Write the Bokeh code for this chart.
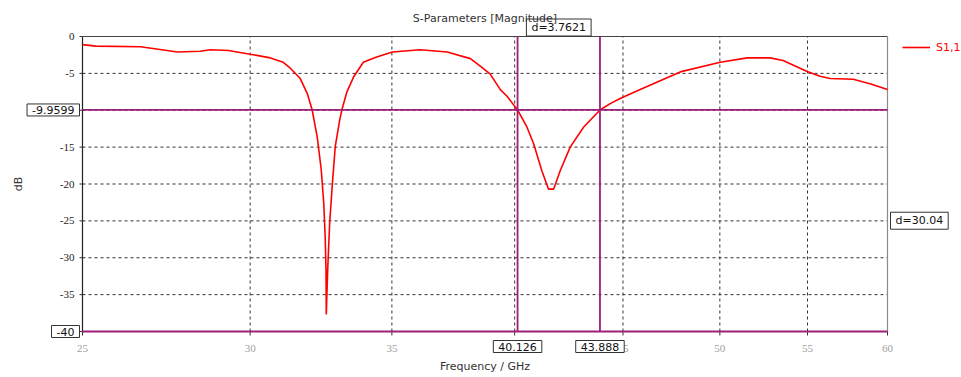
import math
import numpy as np
from bokeh.plotting import figure
from bokeh.models import Range1d, Label, Legend, LegendItem
from bokeh.embed import file_html
from bokeh.resources import INLINE

# S1,1 magnitude trace (frequency in GHz, magnitude in dB)
freq_ghz = [25.00, 25.36, 26.63, 27.72, 28.42, 28.73, 29.30, 30.00, 30.67, 31.10,
            31.34, 31.68, 31.92, 32.09, 32.27, 32.41, 32.50, 32.55, 32.58, 32.59,
            32.64, 32.71, 32.80, 32.91, 33.07, 33.15, 33.33, 33.57, 33.82, 33.93,
            34.40, 35.02, 36.10, 37.17, 38.12, 38.60, 38.95, 39.38, 39.67, 40.126,
            40.54, 40.83, 41.20, 41.50, 41.73, 42.03, 42.49, 43.11, 43.888, 44.38,
            44.86, 45.85, 47.89, 50.02, 51.51, 52.81, 53.56, 54.98, 55.76, 56.37,
            57.80, 58.87, 60.00]
s11_db = [-1.1, -1.3, -1.4, -2.1, -2.0, -1.8, -1.9, -2.4, -2.9, -3.5,
          -4.3, -5.7, -7.7, -9.9, -13.6, -18.0, -22.6, -27.1, -31.6, -37.7,
          -31.6, -25.3, -20.3, -14.9, -11.3, -9.9, -7.5, -5.5, -4.1, -3.5,
          -2.8, -2.1, -1.8, -2.1, -3.0, -4.2, -5.1, -7.2, -8.1, -9.96,
          -12.3, -14.5, -18.2, -20.7, -20.7, -18.2, -15.0, -12.3, -9.96, -9.1,
          -8.4, -7.2, -4.8, -3.5, -2.9, -2.9, -3.25, -4.75, -5.4, -5.7,
          -5.8, -6.4, -7.2]

x_ticks = [25, 30, 35, 40, 45, 50, 55, 60]
x_tick_labels = ["25", "30", "35", "40", "45", "50", "55", "60"]
y_ticks = [0, -5, -10, -15, -20, -25, -30, -35, -40]
y_tick_labels = ["0", "-5", "-10", "-15", "-20", "-25", "-30", "-35", "-40"]

# marker positions
marker_freqs = [40.126, 43.888]
marker_levels = [-9.9599, -40]
marker_freq_labels = ["40.126", "43.888"]
marker_level_labels = ["-9.9599", "-40"]
delta_freq_label = "d=3.7621"
delta_level_label = "d=30.04"

# page and plot-box geometry (pixels)
W, H = 961, 377
BOX_L, BOX_R, BOX_T, BOX_B = 82, 887, 36, 331
X_MIN, X_MAX = 25.0, 60.0
Y_MIN, Y_MAX = -40.0, 0.0

# the frame spans the whole page, so texts and boxes around the plot box are drawn too
lx0, lx1 = math.log(X_MIN), math.log(X_MAX)
kx = (lx1 - lx0) / (BOX_R - BOX_L)
x_range = Range1d(math.exp(lx0 - BOX_L * kx), math.exp(lx1 + (W - BOX_R) * kx))
ky = (Y_MAX - Y_MIN) / (BOX_B - BOX_T)
y_range = Range1d(Y_MIN - (H - BOX_B) * ky, Y_MAX + BOX_T * ky)

FONT = "DejaVu Sans"
MARK = "#9c1f78"
DARK = "#333333"

p = figure(width=W, height=H, x_axis_type="log", x_range=x_range, y_range=y_range,
           x_axis_location=None, y_axis_location=None, output_backend="svg",
           toolbar_location=None, min_border=0)
p.outline_line_color = None
p.background_fill_color = "white"
p.border_fill_color = "white"
p.xgrid.visible = False
p.ygrid.visible = False

# dashed grid
inner_x = [t for t in x_ticks if X_MIN < t < X_MAX]
inner_y = [t for t in y_ticks if Y_MIN < t < Y_MAX]
p.segment(x0=inner_x, y0=[Y_MIN] * len(inner_x), x1=inner_x, y1=[Y_MAX] * len(inner_x),
          line_color=DARK, line_dash="3 3", line_width=1)
p.segment(x0=[X_MIN] * len(inner_y), y0=inner_y, x1=[X_MAX] * len(inner_y), y1=inner_y,
          line_color=DARK, line_dash="3 3", line_width=1)

# plot box edges
p.segment(x0=[X_MIN], y0=[Y_MIN], x1=[X_MIN], y1=[Y_MAX], line_color="#222222", line_width=1.2)
p.segment(x0=[X_MIN], y0=[Y_MAX], x1=[X_MAX], y1=[Y_MAX], line_color="#444444", line_width=1.2)
p.segment(x0=[X_MAX], y0=[Y_MIN], x1=[X_MAX], y1=[Y_MAX], line_color="#8a8a8a", line_width=1.2)

# tick marks
p.ray(x=[X_MIN] * len(y_ticks), y=y_ticks, length=3, length_units="screen",
      angle=np.pi, line_color=DARK, line_width=1)
p.ray(x=x_ticks, y=[Y_MIN] * len(x_ticks), length=4, length_units="screen",
      angle=-np.pi / 2, line_color=DARK, line_width=1)

# tick labels
p.text(x=[X_MIN] * len(y_ticks), y=y_ticks, text=y_tick_labels, x_offset=-8,
       text_align="right", text_baseline="middle", text_font="DejaVu Sans",
       text_font_size="11px", text_color="#222222")
p.text(x=x_ticks, y=[Y_MIN] * len(x_ticks), text=x_tick_labels, y_offset=17,
       text_align="center", text_baseline="middle", text_font="DejaVu Sans",
       text_font_size="11px", text_color="#a0a0a0")

# S1,1 trace
r = p.line(freq_ghz, s11_db, line_color="#ff0000", line_width=1.6)

# marker lines, limited to the plot box
p.segment(x0=marker_freqs, y0=[Y_MIN] * len(marker_freqs), x1=marker_freqs,
          y1=[Y_MAX] * len(marker_freqs), line_color=MARK, line_width=1.8)
p.segment(x0=[X_MIN] * len(marker_levels), y0=marker_levels, x1=[X_MAX] * len(marker_levels),
          y1=marker_levels, line_color=MARK, line_width=1.8)

x_mid = math.sqrt(X_MIN * X_MAX)
p.add_layout(Label(x=x_mid, y=Y_MIN, y_offset=-35, text="Frequency / GHz",
                   text_align="center", text_baseline="middle", text_font=FONT,
                   text_font_size="11px", text_color=DARK))
p.add_layout(Label(x=X_MIN, y=(Y_MIN + Y_MAX) / 2, x_offset=-64, text="dB", angle=np.pi / 2,
                   text_align="center", text_baseline="middle", text_font=FONT,
                   text_font_size="11px", text_color=DARK))

box = dict(text_font=FONT, text_font_size="11px", text_color="#111111",
           background_fill_color="white", border_line_color="#333333",
           border_line_width=1, padding=dict(left=5, right=5, top=2, bottom=2))

for lv, txt in zip(marker_levels, marker_level_labels):
    p.add_layout(Label(x=X_MIN, y=lv, x_offset=-3, text=txt, text_align="right",
                       text_baseline="middle", **box))
for f, txt in zip(marker_freqs, marker_freq_labels):
    p.add_layout(Label(x=f, y=Y_MIN, y_offset=-15, text=txt, text_align="center",
                       text_baseline="middle", **box))

mid_f = math.sqrt(marker_freqs[0] * marker_freqs[1])
p.add_layout(Label(x=mid_f, y=Y_MAX, y_offset=9, text=delta_freq_label, text_align="center",
                   text_baseline="middle", **box))
mid_lv = (marker_levels[0] + marker_levels[1]) / 2
p.add_layout(Label(x=X_MAX, y=mid_lv, x_offset=3, text=delta_level_label, text_align="left",
                   text_baseline="middle", **box))

# title drawn last so it sits over the delta box
p.add_layout(Label(x=x_mid, y=Y_MAX, y_offset=18, text="S-Parameters [Magnitude]",
                   text_align="center", text_baseline="middle", text_font=FONT,
                   text_font_size="11px", text_color=DARK))

legend = Legend(items=[LegendItem(label="S1,1", renderers=[r])], location=(902, 322),
                border_line_color=None, background_fill_alpha=0, padding=0, margin=0,
                glyph_width=28, glyph_height=16, label_height=16, label_standoff=6,
                label_text_color="#ff0000", label_text_font=FONT,
                label_text_font_size="11px")
p.add_layout(legend)

open("out.html", "w").write(file_html(p, INLINE))
